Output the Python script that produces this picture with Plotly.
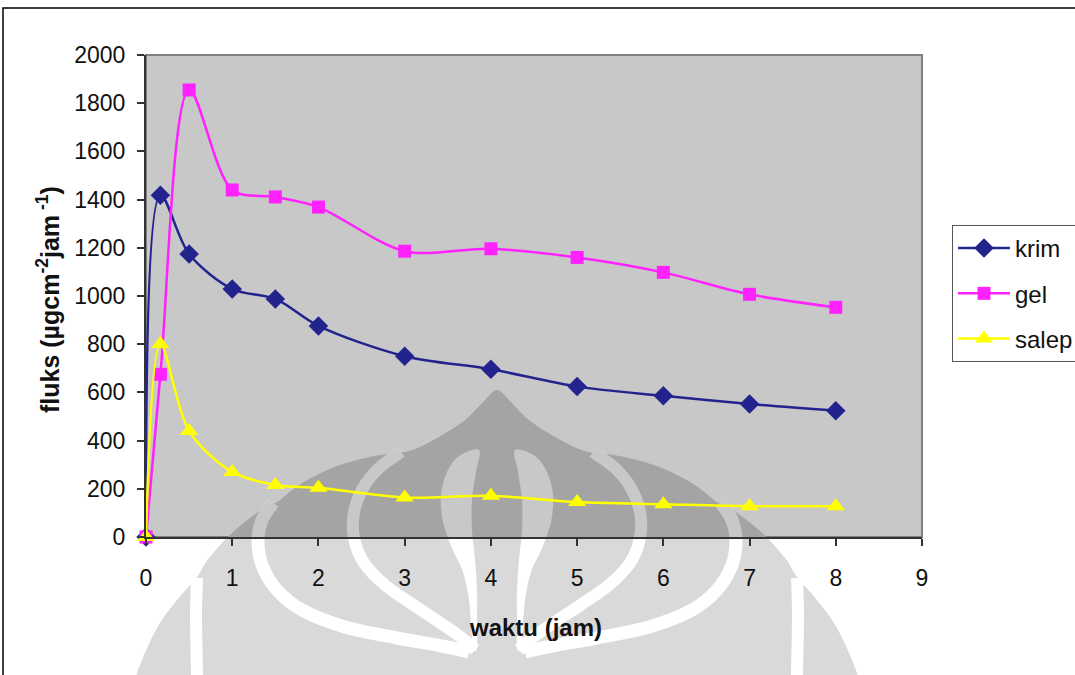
import plotly.graph_objects as go

# Flux data (µg cm^-2 jam^-1) over time (jam)
waktu = [0, 0.167, 0.5, 1, 1.5, 2, 3, 4, 5, 6, 7, 8]
krim = [0, 1418, 1174, 1029, 988, 876, 750, 696, 624, 586, 552, 524]
gel = [0, 675, 1855, 1440, 1411, 1369, 1186, 1196, 1160, 1098, 1007, 953]
salep = [0, 801, 440, 270, 216, 204, 164, 171, 145, 136, 128, 128]

x_ticks = list(range(0, 10))
y_ticks = list(range(0, 2001, 200))

FONT = "Liberation Sans, Arial, sans-serif"
W, H = 1075, 675
L, R, T, B = 146, 153, 55, 138
PW, PH = W - L - R, H - T - B
XMAX, YMAX = 9, 2000

# ---------- makara emblem backdrop (pixel geometry, mirrored about cx) ----------
CX = 497


def px_to_paper(px, py):
    return (px - L) / PW, (H - B - py) / PH


def px_to_data(px, py):
    return (px - L) / PW * XMAX, (H - B - py) / PH * YMAX


def smooth_path(pts, closed, conv):
    """Catmull-Rom through pts, emitted as cubic Bezier SVG path."""
    p = [conv(CX + dx, y) for dx, y in pts]
    n = len(p)

    def get(i):
        if closed:
            return p[i % n]
        return p[min(max(i, 0), n - 1)]

    segs = n if closed else n - 1
    d = "M{:.5f},{:.5f}".format(*p[0])
    for i in range(segs):
        p0, p1, p2, p3 = get(i - 1), get(i), get(i + 1), get(i + 2)
        c1 = (p1[0] + (p2[0] - p0[0]) / 6, p1[1] + (p2[1] - p0[1]) / 6)
        c2 = (p2[0] - (p3[0] - p1[0]) / 6, p2[1] - (p3[1] - p1[1]) / 6)
        d += " C{:.5f},{:.5f} {:.5f},{:.5f} {:.5f},{:.5f}".format(*c1, *c2, *p2)
    if closed:
        d += " Z"
    return d


def mirror(pts):
    return [(-dx, y) for dx, y in pts]


envelope_right = [(0, 390), (14, 402), (32, 420), (60, 438), (88, 451), (123, 456),
                  (160, 466), (195, 483), (220, 502), (229, 505), (262, 530),
                  (288, 558), (300, 577), (320, 600), (340, 628), (360, 673),
                  (372, 720), (380, 770)]
envelope = envelope_right + [(0, 790)] + list(reversed(mirror(envelope_right)))[:-1]

stripe1 = [(96, 452), (118, 468), (134, 488), (143, 512), (143, 538), (133, 563),
           (112, 585), (85, 604), (58, 622), (35, 638), (22, 650)]
stripe2 = [(224, 503), (235, 520), (239, 540), (235, 565), (220, 590), (195, 610),
           (152, 627), (100, 638), (55, 646), (28, 652)]
stripe3 = [(300, 578), (301, 615), (300, 673), (299, 720)]
petal = [(18, 450), (38, 456), (50, 472), (56, 495), (54, 522), (45, 548),
         (34, 572), (28, 600), (26, 625), (24, 648), (20, 648), (20, 620),
         (20, 590), (22, 560), (25, 530), (25, 500), (21, 472)]

shapes = []


def add_layer(conv, xref, yref, fill, gap):
    shapes.append(dict(type="path", xref=xref, yref=yref, layer="below",
                       path=smooth_path(envelope, True, conv),
                       fillcolor=fill, line=dict(width=0)))
    for pts, w in ((stripe1, 12), (stripe2, 13), (stripe3, 12)):
        for side in (pts, mirror(pts)):
            shapes.append(dict(type="path", xref=xref, yref=yref, layer="below",
                               path=smooth_path(side, False, conv),
                               line=dict(color=gap, width=w)))
    for side in (petal, mirror(petal)):
        shapes.append(dict(type="path", xref=xref, yref=yref, layer="below",
                           path=smooth_path(side, True, conv),
                           fillcolor=gap, line=dict(width=0)))


# outside the plotting area: light grey on white
add_layer(px_to_paper, "paper", "paper", "#D9D9D9", "#FFFFFF")
# inside the plotting area (clipped to axes): darker grey on the grey plot fill
add_layer(px_to_data, "x", "y", "#A4A4A4", "#C8C8C8")

# plot-area frame (top/right appear grey)
shapes.append(dict(type="rect", xref="paper", yref="paper", x0=0, x1=1, y0=0, y1=1,
                   layer="below", line=dict(color="#808080", width=2)))
# outer chart frame
fx0, fy0 = px_to_paper(3, 8)
fx1, fy1 = px_to_paper(1090, 700)
shapes.append(dict(type="rect", xref="paper", yref="paper", x0=fx0, x1=fx1,
                   y0=fy1, y1=fy0, layer="above", line=dict(color="#000000", width=1.5)))

fig = go.Figure()

series = [
    ("krim", krim, "#23238E", "diamond", 15),
    ("gel", gel, "#FF22FF", "square", 13),
    ("salep", salep, "#FFFF00", "triangle-up", 16),
]
for name, vals, color, symbol, size in series:
    fig.add_trace(go.Scatter(
        x=waktu, y=vals, name=name, mode="lines+markers", legendgroup=name,
        cliponaxis=False,
        line=dict(color=color, width=2.5, shape="spline", smoothing=0.9),
        marker=dict(symbol=symbol, size=size, color=color, line=dict(width=0)),
    ))

ax_common = dict(
    showgrid=False, zeroline=False, showline=True, linecolor="#333333", linewidth=2,
    ticks="outside", ticklen=7, tickcolor="#333333", tickwidth=1.5,
    tickfont=dict(family=FONT, size=23, color="#111111"),
)
fig.update_xaxes(range=[0, XMAX], tickvals=x_ticks, ticklabelstandoff=12, **ax_common)
fig.update_yaxes(range=[0, YMAX], tickvals=y_ticks, ticklabelstandoff=7, **ax_common)

yt_x, yt_y = px_to_paper(48, 300)
xt_x, xt_y = px_to_paper(535, 627)
annotations = [
    dict(text="<b>fluks (µgcm<sup>-2</sup>jam<sup> -1</sup>)</b>", xref="paper", yref="paper",
         x=yt_x, y=yt_y, showarrow=False, textangle=-90, xanchor="center", yanchor="middle",
         font=dict(family=FONT, size=25, color="#111111")),
    dict(text="<b>waktu (jam)</b>", xref="paper", yref="paper", x=xt_x, y=xt_y,
         showarrow=False, xanchor="center", yanchor="middle",
         font=dict(family=FONT, size=24, color="#111111")),
]

lg_x, lg_y = px_to_paper(952, 225)
fig.update_layout(
    width=W, height=H,
    margin=dict(l=L, r=R, t=T, b=B, autoexpand=False),
    paper_bgcolor="#FFFFFF", plot_bgcolor="#C8C8C8",
    shapes=shapes, annotations=annotations,
    legend=dict(x=lg_x, y=lg_y, xanchor="left", yanchor="top",
                bordercolor="#555555", borderwidth=1, bgcolor="#FFFFFF",
                font=dict(family=FONT, size=24, color="#111111"),
                tracegroupgap=11, itemwidth=52),
    showlegend=True,
)

fig.write_html("out.html")
